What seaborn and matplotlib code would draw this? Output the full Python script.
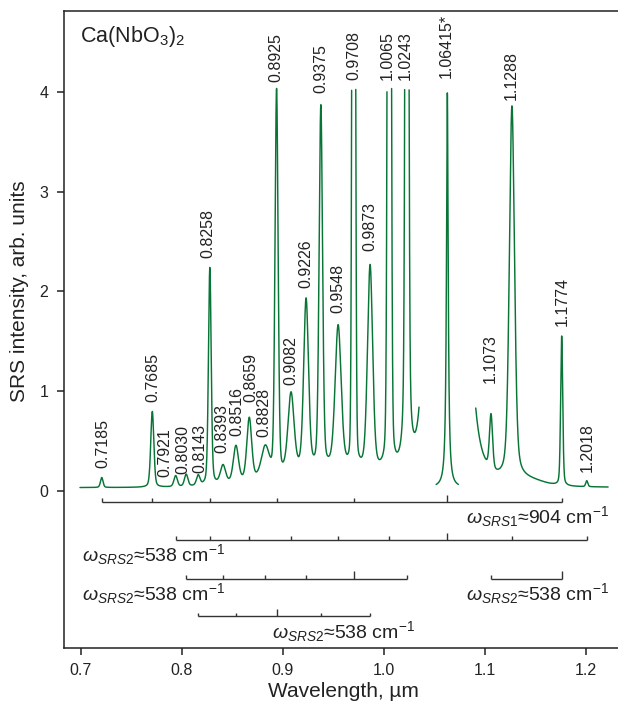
import numpy as np
import pandas as pd
import matplotlib
matplotlib.use('Agg')
import matplotlib.pyplot as plt
import seaborn as sns

# ---- data ----
# printed peak labels (um)
peak_labels = ['0.7185', '0.7685', '0.7921', '0.8030', '0.8143', '0.8258', '0.8393',
               '0.8516', '0.8659', '0.8828', '0.8925', '0.9082', '0.9226', '0.9375',
               '0.9548', '0.9708', '0.9873', '1.0065', '1.0243', '1.06415*', '1.1073',
               '1.1288', '1.1774', '1.2018']
# where each peak sits on the drawn wavelength axis
peak_pos = [0.7208, 0.7708, 0.7939, 0.8043, 0.8162, 0.8277, 0.8407, 0.8535, 0.8667,
            0.8825, 0.8937, 0.9080, 0.9229, 0.9375, 0.9546, 0.9700, 0.9862, 1.0052,
            1.0226, 1.0626, 1.1058, 1.1265, 1.1757, 1.2005]
peak_height = [0.10, 0.76, 0.11, 0.12, 0.10, 2.18, 0.18, 0.36, 0.62, 0.30, 3.85, 0.78,
               1.70, 3.62, 1.42, 16.0, 2.05, 18.0, 18.0, 3.96, 0.55, 3.75, 1.50, 0.06]
peak_hwhm = [0.0015, 0.0018, 0.0020, 0.0020, 0.0020, 0.0016, 0.0030, 0.0030, 0.0028,
             0.0045, 0.0018, 0.0035, 0.0028, 0.0020, 0.0035, 0.0014, 0.0030, 0.0015,
             0.0014, 0.0010, 0.0018, 0.0030, 0.0012, 0.0012]
peak_lorentz = [0.3, 0.3, 0.3, 0.3, 0.3, 0.3, 0.3, 0.3, 0.3, 0.3, 0.2, 0.3, 0.3, 0.25,
                0.3, 0.1, 0.3, 0.15, 0.3, 1.0, 0.3, 0.4, 0.3, 0.3]
peak_segment = [0] * 19 + [1] + [2] * 4

# unlabeled parts of the spectrum: broad background and filter-edge wings
extra_pos = [0.945, 1.042, 1.082, 1.142]
extra_height = [0.17, 3.0, 2.0, 0.05]
extra_hwhm = [0.065, 0.004, 0.007, 0.018]
extra_lorentz = [0.0, 1.0, 1.0, 0.0]
extra_segment = [0, 0, 2, 2]

# recorded pieces of the spectrum (um) and their base level
seg_start = [0.6993, 1.0515, 1.0907]
seg_end = [1.0346, 1.0735, 1.2216]
base_level = 0.03
clip_level = 4.04

# SRS combs: member peaks, the line pumping each comb
comb_members = [['0.7185', '0.7685', '0.8258', '0.8925', '0.9708', '1.06415*', '1.1774'],
                ['0.7921', '0.8258', '0.8659', '0.9082', '0.9548', '1.0065', '1.06415*', '1.1288', '1.2018'],
                ['0.8030', '0.8393', '0.8828', '0.9226', '0.9708', '1.0243'],
                ['1.1073', '1.1774'],
                ['0.8143', '0.8516', '0.8925', '0.9375', '0.9873']]
comb_pump = ['1.06415*', '1.06415*', '0.9708', '1.1774', '0.8925']
comb_text = [r'$\omega_{SRS1}$≈904 cm$^{-1}$'] + [r'$\omega_{SRS2}$≈538 cm$^{-1}$'] * 4

# ---- layout ----
label_x = [0.7218, 0.7718, 0.7834, 0.8009, 0.8180, 0.8260, 0.8395, 0.8543, 0.8681,
           0.8813, 0.8932, 0.9077, 0.9228, 0.9374, 0.9548, 0.9700, 0.9862, 1.0033,
           1.0208, 1.0620, 1.1055, 1.1263, 1.1758, 1.2011]
label_y = [0.225, 0.893, 0.14, 0.167, 0.18, 2.33, 0.375, 0.55, 0.89, 0.54, 4.10, 1.06,
           2.03, 3.99, 1.78, 4.12, 2.40, 4.12, 4.12, 4.14, 1.08, 3.92, 1.65, 0.19]
comb_y = [-0.113, -0.494, -0.883, -0.883, -1.26]
text_x = [1.2226, 0.701, 0.701, 1.2226, 0.889]
text_y = [-0.321, -0.71, -1.097, -1.097, -1.478]
text_ha = ['right', 'left', 'left', 'right', 'left']

green = '#087536'
ink = '#222222'

sns.set_style('ticks')
plt.rcParams['font.family'] = ['Liberation Sans', 'DejaVu Sans']
plt.rcParams['mathtext.fontset'] = 'custom'
plt.rcParams['mathtext.rm'] = 'Liberation Sans'
plt.rcParams['mathtext.it'] = 'Liberation Sans:italic'
plt.rcParams['mathtext.bf'] = 'Liberation Sans:bold'


def pseudo_voigt(x, pos, height, hwhm, lorentz):
    u = (x - pos) / hwhm
    return height * (lorentz / (1 + u ** 2) + (1 - lorentz) * np.exp(-np.log(2) * u ** 2))


frames = []
for s, (lo, hi) in enumerate(zip(seg_start, seg_end)):
    wl = np.linspace(lo, hi, 40000)
    inten = np.full_like(wl, base_level)
    for p, h, w, f, sid in zip(peak_pos, peak_height, peak_hwhm, peak_lorentz, peak_segment):
        if sid == s:
            inten += pseudo_voigt(wl, p, h, w, f)
    for p, h, w, f, sid in zip(extra_pos, extra_height, extra_hwhm, extra_lorentz, extra_segment):
        if sid == s:
            inten += pseudo_voigt(wl, p, h, w, f)
    ok = inten <= clip_level
    run = np.cumsum(~ok)
    frames.append(pd.DataFrame({'wl': wl[ok], 'I': inten[ok],
                                'piece': [f'{s}-{r}' for r in run[ok]]}))
spec = pd.concat(frames, ignore_index=True)

fig = plt.figure(figsize=(6.18, 7.07), dpi=100)
ax = fig.add_axes([0.1036, 0.0835, 0.8964, 0.9014])

sns.lineplot(data=spec, x='wl', y='I', units='piece', estimator=None, sort=False,
             color=green, lw=1.05, ax=ax)

for lab, lx, ly in zip(peak_labels, label_x, label_y):
    ax.text(lx, ly, lab, rotation=90, ha='center', va='bottom', fontsize=11.5, color=ink)

pos_of = dict(zip(peak_labels, peak_pos))
for members, pump, cy in zip(comb_members, comb_pump, comb_y):
    xs = [pos_of[m] for m in members]
    ax.plot([xs[0], xs[-1]], [cy, cy], color='#333333', lw=1.0, solid_capstyle='butt')
    for m, xm in zip(members, xs):
        tick = 0.073 if m == pump else 0.035
        ax.plot([xm, xm], [cy, cy + tick], color='#333333', lw=1.0, solid_capstyle='butt')

for t, tx, ty, ha in zip(comb_text, text_x, text_y, text_ha):
    ax.text(tx, ty, t, ha=ha, va='baseline', fontsize=14, color=ink)

ax.text(0.6995, 4.68, r'Ca(NbO$_3$)$_2$', ha='left', va='top', fontsize=15.5, color=ink)

ax.set_xlim(0.6835, 1.2314)
ax.set_ylim(-1.578, 4.815)
ax.set_xticks([0.7, 0.8, 0.9, 1.0, 1.1, 1.2])
ax.set_xticklabels(['0.7', '0.8', '0.9', '1.0', '1.1', '1.2'])
ax.set_yticks([0, 1, 2, 3, 4])
ax.tick_params(axis='both', length=5, width=1.1, labelsize=11.5, colors=ink, direction='out')
ax.tick_params(axis='x', pad=6)
ax.tick_params(axis='y', pad=6.3)
for side in ['left', 'bottom', 'top']:
    ax.spines[side].set_linewidth(1.1)
    ax.spines[side].set_color(ink)
ax.spines['right'].set_visible(False)

ax.set_xlabel('Wavelength, µm', fontsize=15, color=ink)
ax.set_ylabel('SRS intensity, arb. units', fontsize=15, color=ink)
ax.xaxis.set_label_coords(0.5036, -0.0534)
ax.yaxis.set_label_coords(-0.063, 0.5594)

fig.savefig('out.png', dpi=100)
